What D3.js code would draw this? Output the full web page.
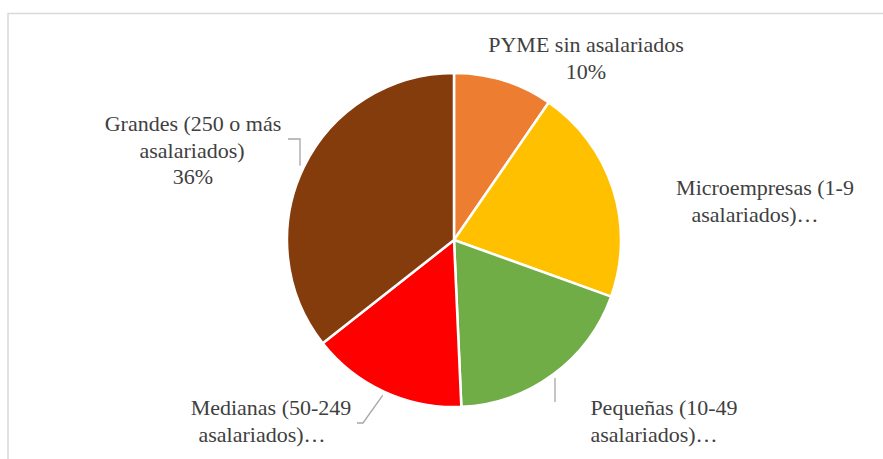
<!DOCTYPE html>
<html>
<head>
<meta charset="utf-8">
<script src="https://cdn.jsdelivr.net/npm/d3@7"></script>
<style>
  body { margin: 0; background: #fff; }
  svg { display: block; }
</style>
</head>
<body>
<div id="chart"></div>
<script>
var width = 883, height = 459;

// data (share of total, %)
var categories = ["PYME sin asalariados", "Microempresas (1-9 asalariados)", "Pequeñas (10-49 asalariados)", "Medianas (50-249 asalariados)", "Grandes (250 o más asalariados)"];
var values = [9.6, 20.9, 18.8, 15.1, 35.6];
var colors = ["#ED7D31", "#FFC000", "#70AD47", "#FF0000", "#843C0C"];

// label text as shown (Excel truncates some of them)
var labelLines = [
    ["PYME sin asalariados", "10%"],
    ["Microempresas (1-9", "asalariados)…"],
    ["Pequeñas (10-49", "asalariados)…"],
    ["Medianas (50-249", "asalariados)…"],
    ["Grandes (250 o más", "asalariados)", "36%"]
];

var svg = d3.select("#chart")
    .append("svg")
    .attr("width", width)
    .attr("height", height);

// chart area border (runs off the right and bottom edges)
svg.append("rect")
    .attr("x", 8)
    .attr("y", 13.5)
    .attr("width", 900)
    .attr("height", 500)
    .style("fill", "none")
    .style("stroke", "#d9d9d9")
    .style("stroke-width", 1.5);

var cx = 454, cy = 240, radius = 167;

var pie = d3.pie().sort(null).value(d => d);
var arc = d3.arc().innerRadius(0).outerRadius(radius);
var arcs = pie(values);

svg.append("g")
    .attr("transform", "translate(" + cx + "," + cy + ")")
    .selectAll("path")
    .data(arcs)
    .enter()
    .append("path")
    .attr("d", arc)
    .style("fill", (d, i) => colors[i])
    .style("stroke", "#fff")
    .style("stroke-width", 2.5)
    .style("stroke-linejoin", "round");

// label anchors: centre x, first baseline y, shift of the truncated 2nd line
var labelPos = [
    { x: 586, y: 52, dx2: 0 },
    { x: 765, y: 195, dx2: -10 },
    { x: 664, y: 415, dx2: -10 },
    { x: 271, y: 415, dx2: -9 },
    { x: 193, y: 131, dx2: -1 }
];
var lineH = 26.5;

// one text element per line
labelLines.forEach(function(lines, i) {
    lines.forEach(function(txt, j) {
        svg.append("text")
            .attr("x", labelPos[i].x + (j === 1 ? labelPos[i].dx2 : 0))
            .attr("y", labelPos[i].y + j * lineH)
            .attr("text-anchor", "middle")
            .attr("font-family", "Liberation Serif")
            .attr("font-size", 22)
            .attr("fill", "#404040")
            .text(txt);
    });
});

// leader lines: label corner -> point just outside the slice edge
var r2 = radius + 4;
var onCircleY = function(x, sign) {
    return cy + sign * Math.sqrt(r2 * r2 - (x - cx) * (x - cx));
};
var midPoint = function(d) {
    var a = (d.startAngle + d.endAngle) / 2;
    return [cx + Math.sin(a) * r2, cy - Math.cos(a) * r2];
};

var leaderPts = [
    [[555, 402], [555, onCircleY(555, 1)]],
    [[357, 423], [363, 423], midPoint(arcs[3])],
    [[288, 139], [300, 139], [300, onCircleY(300, -1)]]
];

svg.selectAll(".leader")
    .data(leaderPts)
    .enter()
    .append("path")
    .attr("class", "leader")
    .attr("d", d3.line())
    .style("fill", "none")
    .style("stroke", "#a6a6a6")
    .style("stroke-width", 1.3);
</script>
</body>
</html>
